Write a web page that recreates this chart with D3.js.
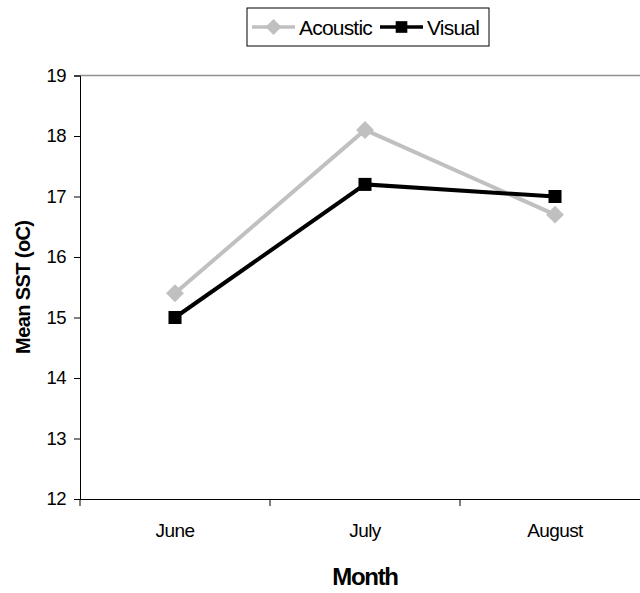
<!DOCTYPE html>
<html>
<head>
<meta charset="utf-8">
<script src="https://cdn.jsdelivr.net/npm/d3@7"></script>
<style>
  body { margin: 0; background: #fff; }
  svg { font-family: "Liberation Sans", Arial, sans-serif; }
</style>
</head>
<body>
<script>
// data
let months = ['June', 'July', 'August']
let acoustic = [15.4, 18.1, 16.7]
let visual = [15.0, 17.2, 17.0]
let yTicks = [12, 13, 14, 15, 16, 17, 18, 19]

let width = 640
let height = 593
let plotLeft = 80
let plotRight = 650
let plotTop = 75.5
let plotBottom = 499

let svg = d3.select('body').append('svg')
    .attr('width', width)
    .attr('height', height)

let xScale = d3.scaleBand()
    .domain(months)
    .range([plotLeft, plotRight])

let yScale = d3.scaleLinear()
    .domain([12, 19])
    .range([plotBottom, plotTop])

// top border of plot area
svg.append('line')
    .attr('x1', plotLeft).attr('x2', plotRight)
    .attr('y1', plotTop).attr('y2', plotTop)
    .attr('stroke', '#909090')
    .attr('stroke-width', 1.5)

// y axis
let yAxis = d3.axisLeft(yScale).tickValues(yTicks).tickFormat(d3.format('d')).tickSize(6).tickPadding(8)
let gy = svg.append('g')
    .attr('transform', 'translate(' + plotLeft + ',0)')
    .call(yAxis)
gy.attr('font-size', null).attr('font-family', null)
gy.select('.domain').attr('stroke', '#000')
gy.selectAll('text')
    .attr('font-size', 18.5)
    .attr('fill', '#000')
    .style('letter-spacing', '-0.5px')

// x axis with ticks at band edges
let xAxis = d3.axisBottom(xScale).tickSize(0).tickPadding(24.5)
let gx = svg.append('g')
    .attr('transform', 'translate(0,' + plotBottom + ')')
    .call(xAxis)
gx.attr('font-size', null).attr('font-family', null)
gx.select('.domain').attr('stroke', '#000')
gx.selectAll('text')
    .attr('font-size', 19)
    .attr('fill', '#000')
    .style('letter-spacing', '-0.6px')
svg.append('g').selectAll('line')
    .data(months)
    .enter()
    .append('line')
    .attr('x1', d => xScale(d)).attr('x2', d => xScale(d))
    .attr('y1', plotBottom).attr('y2', plotBottom + 7)
    .attr('stroke', '#000')

// axis titles
svg.append('text')
    .attr('x', xScale('July') + xScale.bandwidth() / 2)
    .attr('y', 585)
    .attr('text-anchor', 'middle')
    .attr('font-size', 24)
    .attr('font-weight', 'bold')
    .style('letter-spacing', '-1.3px')
    .text('Month')

svg.append('text')
    .attr('transform', 'translate(30,' + (plotTop + plotBottom) / 2 + ') rotate(-90)')
    .attr('text-anchor', 'middle')
    .attr('font-size', 20)
    .attr('font-weight', 'bold')
    .style('letter-spacing', '-0.6px')
    .text('Mean SST (oC)')

// series
let series = [
    { name: 'Acoustic', values: acoustic, color: '#c0c0c0', size: 160, rotate: 45 },
    { name: 'Visual', values: visual, color: '#000000', size: 170, rotate: 0 }
]

let line = d3.line()
    .x((d, i) => xScale(months[i]) + xScale.bandwidth() / 2)
    .y(d => yScale(d))

series.forEach(s => {
    svg.append('path')
        .datum(s.values)
        .attr('d', line)
        .attr('fill', 'none')
        .attr('stroke', s.color)
        .attr('stroke-width', 4)

    svg.append('g').selectAll('path')
        .data(s.values)
        .enter()
        .append('path')
        .attr('d', d3.symbol().type(d3.symbolSquare).size(s.size))
        .attr('transform', (d, i) => 'translate(' + (xScale(months[i]) + xScale.bandwidth() / 2) + ',' + yScale(d) + ') rotate(' + s.rotate + ')')
        .attr('fill', s.color)
})

// legend
let legend = svg.append('g')
legend.append('rect')
    .attr('x', 247).attr('y', 8)
    .attr('width', 242).attr('height', 38)
    .attr('fill', '#fff')
    .attr('stroke', '#000')

let legendX = [252, 380]
let textX = [299, 427]
series.forEach((s, i) => {
    legend.append('line')
        .attr('x1', legendX[i]).attr('x2', legendX[i] + 43)
        .attr('y1', 27).attr('y2', 27)
        .attr('stroke', s.color)
        .attr('stroke-width', 3.5)
    legend.append('path')
        .attr('d', d3.symbol().type(d3.symbolSquare).size(s.size * 0.8))
        .attr('transform', 'translate(' + (legendX[i] + 21.5) + ',27) rotate(' + s.rotate + ')')
        .attr('fill', s.color)
    legend.append('text')
        .attr('x', textX[i])
        .attr('y', 34.5)
        .attr('font-size', 21)
        .style('letter-spacing', '-0.8px')
        .text(s.name)
})
</script>
</body>
</html>
